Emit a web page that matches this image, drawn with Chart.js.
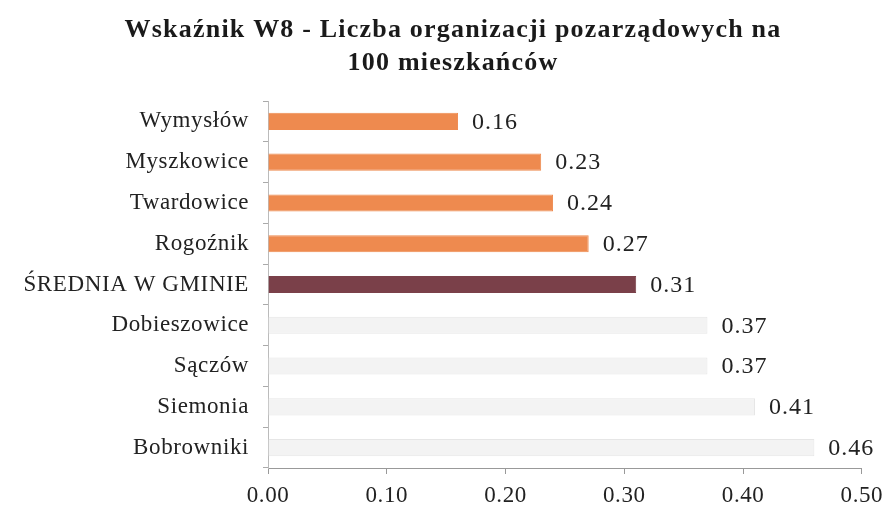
<!DOCTYPE html>
<html>
<head>
<meta charset="utf-8">
<script src="https://cdn.jsdelivr.net/npm/chart.js@4"></script>
<style>
  html, body { margin: 0; padding: 0; background: #fff; }
  #wrap { width: 890px; height: 508px; }
</style>
</head>
<body>
<div id="wrap"><canvas id="c" width="890" height="508"></canvas></div>
<script>
const categories = ["Wymysłów", "Myszkowice", "Twardowice", "Rogoźnik", "ŚREDNIA W GMINIE", "Dobieszowice", "Sączów", "Siemonia", "Bobrowniki"];
const values = [0.16, 0.23, 0.24, 0.27, 0.31, 0.37, 0.37, 0.41, 0.46];
const barColors = ["#ee8a4f", "#ee8a4f", "#ee8a4f", "#ee8a4f", "#7a4049", "#f3f3f3", "#f3f3f3", "#f3f3f3", "#f3f3f3"];
const borderColors = ["#ee8a4f", "#ee8a4f", "#ee8a4f", "#ee8a4f", "#7a4049", "#e6e6e6", "#e6e6e6", "#e6e6e6", "#e6e6e6"];
const xTicks = [0, 0.1, 0.2, 0.3, 0.4, 0.5];

const serif = "'Liberation Serif', 'Times New Roman', serif";

// lekko rozstrzelony tekst jak w oryginale
const spacing = {
  id: "spacing",
  beforeDraw(chart) { chart.ctx.letterSpacing = "0.6px"; },
  afterDraw(chart) { chart.ctx.letterSpacing = "0px"; }
};

// etykiety wartości za końcem słupka
const valueLabels = {
  id: "valueLabels",
  afterDatasetsDraw(chart) {
    const ctx = chart.ctx;
    const meta = chart.getDatasetMeta(0);
    ctx.save();
    ctx.letterSpacing = "1px";
    ctx.font = "24px " + serif;
    ctx.fillStyle = "#222";
    ctx.textAlign = "left";
    ctx.textBaseline = "middle";
    meta.data.forEach((bar, i) => {
      ctx.fillText(values[i].toFixed(2), bar.x + 14, bar.y + 1);
    });
    ctx.restore();
  }
};

// tytuł rysowany ręcznie, żeby dać odstępy między literami
const titlePlugin = {
  id: "titleText",
  afterDraw(chart) {
    const ctx = chart.ctx;
    ctx.save();
    ctx.letterSpacing = "1.2px";
    ctx.font = "bold 26px " + serif;
    ctx.fillStyle = "#1a1a1a";
    ctx.textAlign = "center";
    ctx.textBaseline = "middle";
    ctx.fillText("Wskaźnik W8 - Liczba organizacji pozarządowych na", 453, 30);
    ctx.fillText("100 mieszkańców", 453, 63);
    ctx.restore();
  }
};

new Chart(document.getElementById("c"), {
  type: "bar",
  data: {
    labels: categories,
    datasets: [{
      data: values,
      backgroundColor: barColors,
      borderColor: borderColors,
      borderWidth: 1,
      barPercentage: 0.42,
      categoryPercentage: 1.0
    }]
  },
  options: {
    indexAxis: "y",
    responsive: false,
    animation: false,
    layout: { padding: { left: 0, right: 28, top: 101, bottom: 0 } },
    plugins: {
      legend: { display: false },
      tooltip: { enabled: false },
      title: { display: false }
    },
    scales: {
      x: {
        min: 0,
        max: 0.5,
        afterBuildTicks(scale) {
          scale.ticks = xTicks.map(v => ({ value: v }));
        },
        afterFit(scale) { scale.height = 40; },
        ticks: {
          color: "#222",
          font: { family: serif, size: 23 },
          padding: 8,
          maxRotation: 0,
          callback: v => Number(v).toFixed(2)
        },
        grid: { drawOnChartArea: false, tickLength: 6, color: "#999" },
        border: { color: "#999" }
      },
      y: {
        afterFit(scale) { scale.width = 268; },
        ticks: {
          color: "#222",
          font: { family: serif, size: 23 },
          padding: 14
        },
        grid: { drawOnChartArea: false, offset: true, tickLength: 5, color: "#aaa" },
        border: { color: "#bbb" }
      }
    }
  },
  plugins: [spacing, valueLabels, titlePlugin]
});
</script>
</body>
</html>
